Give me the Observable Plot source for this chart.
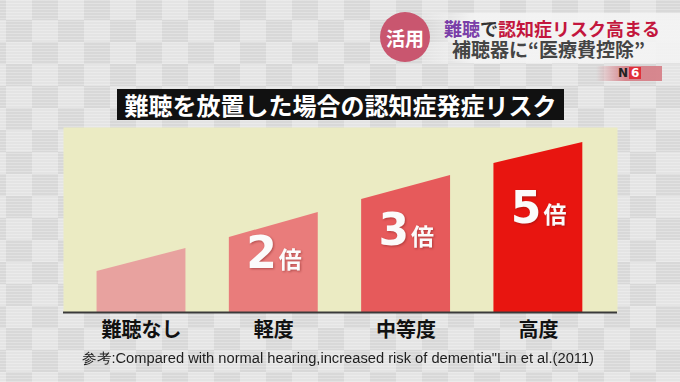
<!DOCTYPE html>
<html>
<head>
<meta charset="utf-8">
<script src="https://cdn.jsdelivr.net/npm/d3@7"></script>
<script src="https://cdn.jsdelivr.net/npm/@observablehq/plot@0.6"></script>
<style>
html, body { margin: 0; padding: 0; }
#stage {
  position: relative; width: 680px; height: 382px; overflow: hidden;
  font-family: "Noto Sans CJK JP", sans-serif;
  background-color: #dedede;
  background-image:
    repeating-linear-gradient(0deg, rgba(255,255,255,0.25) 0 1px, rgba(0,0,0,0) 1px 3px),
    conic-gradient(#d8d8d8 25%, #e4e4e4 0 50%, #d8d8d8 0 75%, #e4e4e4 0);
  background-size: auto, 52px 44px;
  background-position: 0 0, 6px -2px;
}
#chart { position: absolute; left: 0; top: 0; }
.abs { position: absolute; white-space: nowrap; }
#band { left: 425px; top: 13px; width: 255px; height: 50px;
  background: linear-gradient(to right, rgba(244,244,244,0), rgba(244,244,244,0.9) 18%, rgba(244,244,244,0.9)); }
#badge { left: 380px; top: 12px; width: 50px; height: 50px; border-radius: 50%;
  background: #c9566f; color: #fff; font-size: 19px; font-weight: 700;
  display: flex; align-items: center; justify-content: center; }
#head1 { left: 444px; top: 18px; font-size: 18px; font-weight: 700; line-height: 20px; color: #333; }
#head1 .p { color: #7a3ea8; }
#head1 .r { color: #c3163d; }
#head2 { left: 452px; top: 39px; font-size: 19px; font-weight: 700; line-height: 20px; color: #454545; }
#n6bg { left: 596px; top: 66px; width: 66px; height: 15px;
  background: linear-gradient(to right, rgba(214,130,138,0), rgba(214,130,138,0.95) 45%); }
#n6 { left: 618px; top: 66px; font-family: "DejaVu Sans", sans-serif; font-size: 12px; font-weight: 700; line-height: 15px; color: #222; }
#n6 span { display: inline-block; background: #e0303a; color: #fff; padding: 0 2px; line-height: 12px; margin-left: 1px; }
#title { left: 117px; top: 89px; width: 447px; height: 31px; background: #111;
  color: #fff; font-size: 24px; font-weight: 700; line-height: 31px; text-align: center; }
#caption { left: 82px; top: 350px; font-family: "Liberation Sans", sans-serif; font-size: 14px; line-height: 16px; color: #1e1e1e; transform-origin: 0 50%; }
svg g[aria-label="text"] text { filter: drop-shadow(1px 1px 1px rgba(110,20,20,0.45)); }
</style>
</head>
<body>
<div id="stage">
  <div id="chart"></div>
  <div class="abs" id="band"></div>
  <div class="abs" id="badge">活用</div>
  <div class="abs" id="head1"><span class="p">難聴</span>で<span class="r">認知症リスク高まる</span></div>
  <div class="abs" id="head2">補聴器に“医療費控除”</div>
  <div class="abs" id="n6bg"></div>
  <div class="abs" id="n6">N<span>6</span></div>
  <div class="abs" id="title">難聴を放置した場合の認知症発症リスク</div>
  <div class="abs" id="caption">参考:Compared with normal hearing,increased risk of dementia"Lin et al.(2011)</div>
</div>
<script>
// Data
const categories = ["難聴なし", "軽度", "中等度", "高度"];
const riskMultiple = [1, 2, 3, 5];              // 倍 (relative risk)
const riskLabels = ["", "2", "3", "5"];         // labels printed on bars
const barLeftHeight = [41, 75, 113, 149];       // stylised bar height, left edge (chart units)
const barRightHeight = [64, 100, 137, 170];     // stylised bar height, right edge (chart units)
const barColors = ["#e8a29f", "#e97c7b", "#e65a5b", "#e81510"];
const unitLabel = "倍";

const halfWidth = 0.336;
const areaRows = categories.flatMap((c, i) => [
  { i, cat: c, x: i - halfWidth, y: barLeftHeight[i], color: barColors[i] },
  { i, cat: c, x: i + halfWidth, y: barRightHeight[i], color: barColors[i] }
]);
const labelRows = categories.map((c, i) => ({
  i, cat: c, h: barLeftHeight[i], n: riskLabels[i], m: riskMultiple[i]
})).filter(d => d.n !== "");

const plot = Plot.plot({
  width: 680,
  height: 382,
  marginLeft: 63,
  marginRight: 63,
  marginTop: 127,
  marginBottom: 70,
  style: { background: "transparent", fontFamily: "Noto Sans CJK JP, sans-serif", overflow: "visible" },
  x: { type: "linear", domain: [-0.5896, 3.598], axis: null },
  y: { domain: [0, 185], axis: null },
  marks: [
    Plot.frame({ fill: "#ebebc3", stroke: null }),
    Plot.areaY(areaRows, { x: "x", y: "y", z: "cat", fill: "color", curve: "linear" }),
    Plot.ruleY([0], { stroke: "#3a3a3a", strokeWidth: 2 }),
    Plot.text(labelRows, {
      x: "i", y: d => d.h * 0.6, text: "n", textAnchor: "end", lineAnchor: "bottom", dx: 3,
      fontSize: 44, fontWeight: "bold", fontFamily: "DejaVu Sans, sans-serif", fill: "#fbfbfb"
    }),
    Plot.text(labelRows, {
      x: "i", y: d => d.h * 0.6, text: () => unitLabel, textAnchor: "start", lineAnchor: "bottom", dx: 5,
      fontSize: 23, fontWeight: "bold", fill: "#fbfbfb"
    }),
    Plot.axisX({
      ticks: d3.range(categories.length), tickFormat: i => categories[i],
      tickSize: 0, tickPadding: 10, fontSize: 20, fontWeight: "bold", fill: "#111", label: null
    })
  ]
});
document.getElementById("chart").appendChild(plot);

const cap = document.getElementById("caption");
const w = cap.getBoundingClientRect().width;
cap.style.transform = `scaleX(${512 / w})`;
</script>
</body>
</html>
